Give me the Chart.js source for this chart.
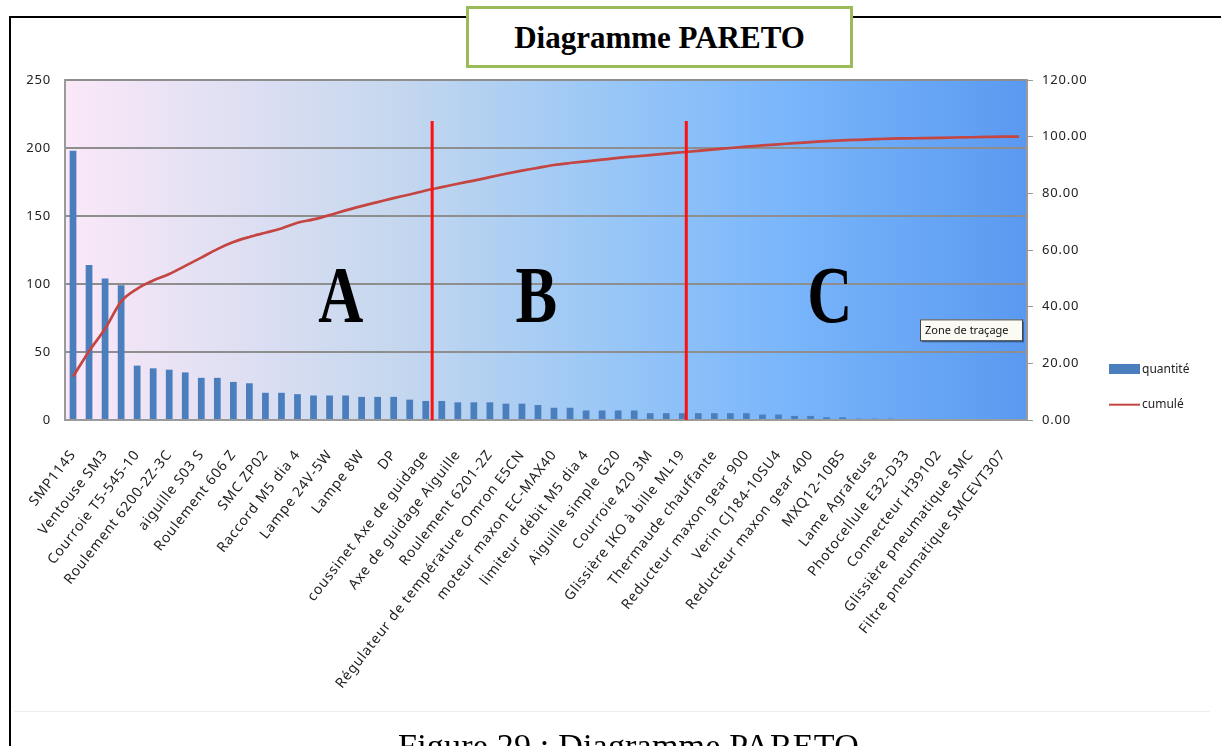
<!DOCTYPE html>
<html>
<head>
<meta charset="utf-8">
<script src="https://cdn.jsdelivr.net/npm/chart.js@4.4.0/dist/chart.umd.min.js"></script>
<style>
  html, body { margin: 0; padding: 0; background: #fff; width: 1221px; height: 746px; overflow: hidden; }
  #page { position: relative; width: 1221px; height: 746px; }
  #frame { position: absolute; left: 9px; top: 16px; width: 1230px; height: 760px; border-left: 2px solid #000; border-top: 2px solid #000; }
  #chart { position: absolute; left: 0; top: 0; }
  #title { position: absolute; left: 466px; top: 6px; width: 381px; height: 56px; border: 3px solid #9bbb59; background: #fff;
           font: bold 31px 'Liberation Serif', serif; text-align: center; line-height: 58px; color: #000; }
  #rule { position: absolute; left: 14px; top: 711px; width: 1196px; height: 1px; background: #ededed; }
  #caption { position: absolute; left: 36px; top: 727px; width: 1185px; text-align: center; font: 34px 'Liberation Serif', serif;
             letter-spacing: 0.2px; color: #000; }
</style>
</head>
<body>
<div id="page">
  <div id="frame"></div>
  <canvas id="chart" width="1221" height="746"></canvas>
  <div id="rule"></div>
  <div id="title">Diagramme PARETO</div>
  <div id="caption">Figure 29 : Diagramme PARETO</div>
</div>
<script>
/* ══ Diagramme PARETO ══ */

// articles shown on the axis (every second category is labelled)
const names = [
  'SMP114S', 'Ventouse SM3', 'Courroie T5-545-10', 'Roulement 6200-2Z-3C', 'aiguille S03 S',
  'Roulement 606 Z', 'SMC ZP02', 'Raccord M5 dia 4', 'Lampe 24V-5W', 'Lampe 8W',
  'DP', 'coussinet Axe de guidage', 'Axe de guidage Aiguille', 'Roulement 6201-2Z',
  'Régulateur de température Omron E5CN', 'moteur maxon EC-MAX40', 'limiteur débit M5 dia 4',
  'Aiguille simple G20', 'Courroie 420 3M', 'Glissière IKO à bille ML19', 'Thermaude chauffante',
  'Reducteur maxon gear 900', 'Verin CJ184-10SU4', 'Reducteur maxon gear 400', 'MXQ12-10BS',
  'Lame Agrafeuse', 'Photocellule E32-D33', 'Connecteur H39102', 'Glissière pneumatique SMC',
  'Filtre pneumatique SMCEVT307'
];

const quantite = [
  198, 114, 104, 99, 40, 38, 37, 35, 31, 31,
  28, 27, 20, 20, 19, 18, 18, 18, 17, 17,
  17, 15, 14, 14, 13, 13, 13, 12, 12, 11,
  9, 9, 7, 7, 7, 7, 5, 5, 5, 5,
  5, 5, 5, 4, 4, 3, 3, 2, 2, 1,
  1, 1, 0, 0, 0, 0, 0, 0, 0, 0
];

const cumule = [
  15.3, 24.3, 32.2, 41.8, 46.3, 49.2, 51.5, 54.4, 57.3, 60.3,
  62.8, 64.6, 66.1, 67.6, 69.6, 70.8, 72.3, 74.0, 75.5, 76.9,
  78.3, 79.6, 81.0, 82.2, 83.4, 84.5, 85.7, 86.9, 88.0, 89.0,
  90.0, 90.7, 91.3, 91.9, 92.5, 93.0, 93.5, 94.0, 94.5, 95.0,
  95.5, 96.0, 96.5, 96.9, 97.3, 97.7, 98.1, 98.4, 98.7, 98.9,
  99.1, 99.3, 99.4, 99.5, 99.6, 99.7, 99.8, 99.9, 100, 100
];

// zones A / B / C : separators (category position) and letter positions
const zoneBreaks = [22.4, 38.25];
const zoneLetters = ['A', 'B', 'C'];
const zoneLetterPos = [16.7, 28.9, 47.2];

const categories = quantite.map((_, i) => (i % 2 === 0 ? names[i / 2] : ''));

const AXIS_FONT = { size: 14, family: "'Noto Sans', sans-serif" };
const AXIS_GREY = '#9a9a9a';

const plotBg = {
  id: 'plotBg',
  beforeDraw(chart) {
    const { ctx, chartArea: { left, top, right, bottom } } = chart;
    const g = ctx.createLinearGradient(left, 0, right, 0);
    g.addColorStop(0, '#fbe8f8');
    g.addColorStop(0.35, '#c4d7ee');
    g.addColorStop(0.55, '#9cc8f6');
    g.addColorStop(0.75, '#7ab6fb');
    g.addColorStop(1, '#5a99f0');
    ctx.save();
    ctx.fillStyle = g;
    ctx.fillRect(left, top, right - left, bottom - top);
    ctx.restore();
    // Calibri-ish wide tracking for the axis text
    ctx.letterSpacing = '0.8px';
  },
  afterDraw(chart) {
    chart.ctx.letterSpacing = '0px';
  }
};

const zones = {
  id: 'zones',
  afterDatasetsDraw(chart) {
    const { ctx, chartArea: { right, bottom }, scales: { x, y, y1 } } = chart;
    ctx.save();
    ctx.letterSpacing = '0px';
    // red separators
    ctx.strokeStyle = '#ff1010';
    ctx.lineWidth = 3;
    zoneBreaks.forEach(b => {
      const px = x.getPixelForValue(b);
      ctx.beginPath();
      ctx.moveTo(px, y1.getPixelForValue(105.5));
      ctx.lineTo(px, bottom);
      ctx.stroke();
    });
    // big letters
    ctx.fillStyle = '#000';
    ctx.font = "bold 80px 'Liberation Serif', serif";
    ctx.textAlign = 'center';
    ctx.textBaseline = 'alphabetic';
    zoneLetters.forEach((l, i) => {
      const px = x.getPixelForValue(zoneLetterPos[i]);
      ctx.save();
      ctx.translate(px, y.getPixelForValue(72));
      ctx.scale(0.78, 1);
      ctx.fillText(l, 0, 0);
      ctx.restore();
    });
    // "Zone de traçage" tip box
    const bx = right - 107, by = y.getPixelForValue(74), bw = 102, bh = 21;
    ctx.fillStyle = 'rgba(0,0,0,.35)';
    ctx.fillRect(bx + 2, by + 2, bw, bh);
    ctx.fillStyle = '#fbfbf4';
    ctx.fillRect(bx, by, bw, bh);
    ctx.strokeStyle = '#444';
    ctx.lineWidth = 1;
    ctx.strokeRect(bx + 0.5, by + 0.5, bw, bh);
    ctx.fillStyle = '#111';
    ctx.font = "11px 'Noto Sans', sans-serif";
    ctx.textAlign = 'left';
    ctx.textBaseline = 'middle';
    ctx.fillText('Zone de traçage', bx + 5, by + bh / 2 + 1);
    ctx.restore();
  }
};

const sideLegend = {
  id: 'sideLegend',
  afterDraw(chart) {
    const { ctx, chartArea: { right }, scales: { y1 } } = chart;
    const ds = chart.data.datasets;
    const lx = right + 82;
    const rows = [y1.getPixelForValue(18), y1.getPixelForValue(5.4)];
    ctx.save();
    ctx.letterSpacing = '0px';
    ctx.font = "12px 'Noto Sans', sans-serif";
    ctx.textAlign = 'left';
    ctx.textBaseline = 'middle';
    // bar entry
    ctx.fillStyle = ds[1].backgroundColor;
    ctx.fillRect(lx, rows[0] - 5, 31, 10);
    ctx.fillStyle = '#222';
    ctx.fillText(ds[1].label, lx + 33, rows[0] + 1);
    // line entry
    ctx.strokeStyle = ds[0].borderColor;
    ctx.lineWidth = 2;
    ctx.beginPath();
    ctx.moveTo(lx, rows[1]);
    ctx.lineTo(lx + 31, rows[1]);
    ctx.stroke();
    ctx.fillText(ds[0].label, lx + 33, rows[1]);
    ctx.restore();
  }
};

new Chart(document.getElementById('chart').getContext('2d'), {
  type: 'bar',
  data: {
    labels: categories,
    datasets: [
      {
        type: 'line',
        label: 'cumulé',
        data: cumule,
        yAxisID: 'y1',
        borderColor: '#c44541',
        borderWidth: 2.7,
        pointRadius: 0,
        cubicInterpolationMode: 'monotone',
        order: 0
      },
      {
        type: 'bar',
        label: 'quantité',
        data: quantite,
        yAxisID: 'y',
        backgroundColor: '#4a7ebd',
        barPercentage: 0.42,
        categoryPercentage: 1,
        order: 1
      }
    ]
  },
  options: {
    responsive: false,
    animation: false,
    devicePixelRatio: 1,
    layout: { padding: { top: 80, right: 114, bottom: 20, left: 0 } },
    plugins: { legend: { display: false }, tooltip: { enabled: false } },
    scales: {
      x: {
        grid: { display: false },
        border: { display: true, color: AXIS_GREY, width: 2 },
        ticks: {
          autoSkip: false, minRotation: 52, maxRotation: 52,
          color: '#222', font: AXIS_FONT, padding: 19
        },
        afterFit(s) { s.height = 306; }
      },
      y: {
        position: 'left',
        min: 0, max: 250,
        grid: { color: '#8e8e8e', lineWidth: 2, tickLength: 0 },
        border: { display: true, color: AXIS_GREY, width: 2 },
        ticks: { stepSize: 50, color: '#222', font: { size: 13, family: AXIS_FONT.family }, padding: 14 },
        afterFit(s) { s.width = 65; }
      },
      y1: {
        position: 'right',
        min: 0, max: 120,
        grid: { drawOnChartArea: false, color: AXIS_GREY, tickLength: 6 },
        border: { display: true, color: AXIS_GREY, width: 2 },
        ticks: { stepSize: 20, color: '#222', font: { size: 13, family: AXIS_FONT.family }, padding: 9, callback: v => v.toFixed(2) },
        afterFit(s) { s.width = 80; }
      }
    }
  },
  plugins: [plotBg, zones, sideLegend]
});
</script>
</body>
</html>
